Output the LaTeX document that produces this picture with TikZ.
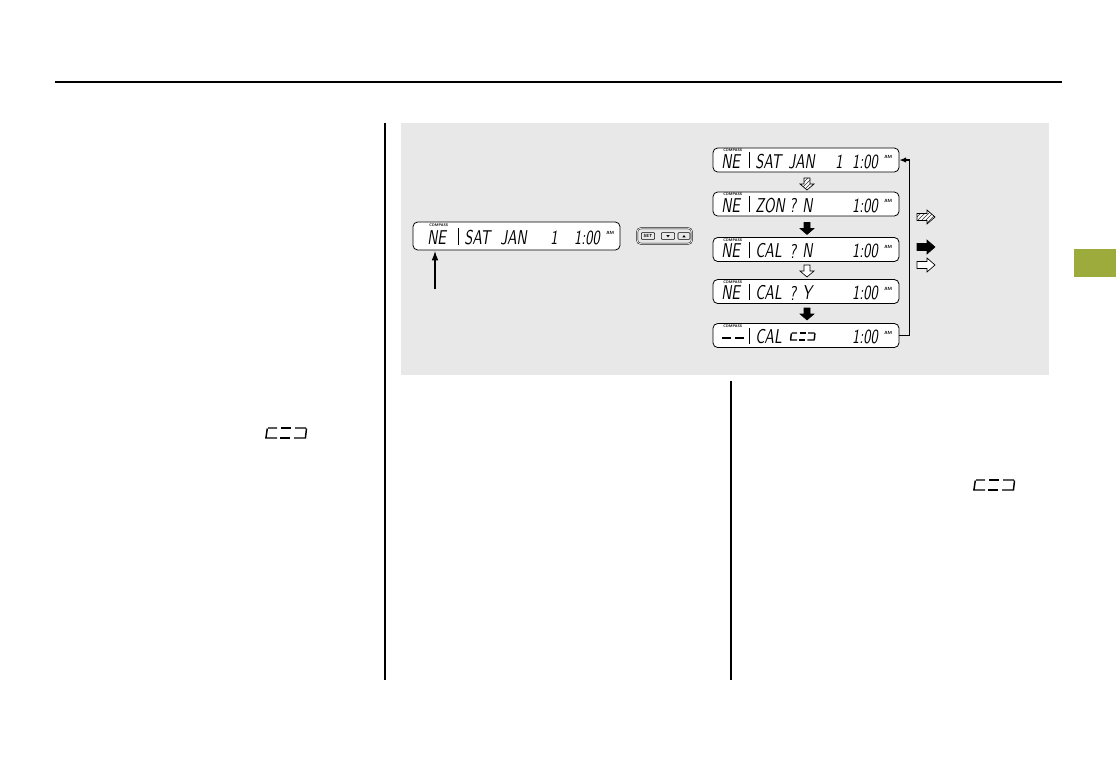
\documentclass[tikz,border=0pt]{standalone}
\usepackage{fontspec}
\usetikzlibrary{patterns,arrows.meta}
\definecolor{panel}{HTML}{E8E8E8}
\definecolor{tabgreen}{HTML}{9CAB3C}
\newfontfamily\lcdfam{lmsans10-oblique.otf}[FakeStretch=0.72]
\newcommand\downpath{(-3,-6)--(3,-6)--(3,0)--(7,0)--(0,6)--(-7,0)--(-3,0)--cycle}
\newcommand\rightpath{(-9,-3.5)--(1,-3.5)--(1,-7)--(9,0)--(1,7)--(1,3.5)--(-9,3.5)--cycle}
\tikzset{
  disp/.style={draw, rounded corners=3.5pt, fill=white, line width=0.6pt, inner sep=0pt},
  lcd/.style={font=\lcdfam\fontsize{15}{15}\selectfont, inner sep=0pt, anchor=west},
  comp/.style={font=\sffamily\bfseries\fontsize{2.8}{2.8}\selectfont, inner sep=0pt, anchor=west},
  am/.style={font=\sffamily\bfseries\fontsize{3.4}{3.4}\selectfont, inner sep=0pt, anchor=west},
  bar/.style={line width=0.7pt},
  blk/.style={fill=black, draw=black, line width=0.4pt},
  wht/.style={fill=white, draw=black, line width=0.5pt},
  downarrow/.pic={\path[pic actions] \downpath;},
  rightarrow/.pic={\path[pic actions] \rightpath;},
  hatdown/.pic={\fill[white] \downpath; \fill[pattern=north east lines, pattern color=black!80] \downpath; \draw[line width=0.5pt] \downpath;},
  hatright/.pic={\fill[white] \rightpath; \fill[pattern=north east lines, pattern color=black!80] \rightpath; \draw[line width=0.5pt] \rightpath;},
  ccd/.pic={
    \draw[line width=1.1pt] (3,0)--(12,0) (2.3,0.5)--(1,9.5) (0,10)--(12,10);
    \draw[line width=1.1pt] (16,0)--(26,0) (15,10)--(25,10);
    \draw[line width=1.1pt] (30,0)--(41,0) (41.5,0.5)--(40.5,9.5) (29,10)--(41,10);
  },
  rule/.style={line width=1.3pt},
}
\begin{document}
\begin{tikzpicture}[x=0.75pt,y=-0.75pt]
\useasboundingbox (0,0) rectangle (1116,758);
\fill[white] (0,0) rectangle (1116,758);
% header rule and page structure
\draw[rule] (55,82) -- (1062,82);
\fill[panel] (401,123) rectangle (1049,375);
\draw[rule] (385,123) -- (385,680);
\draw[rule] (731,381) -- (731,680);
\fill[tabgreen] (1074,249) rectangle (1116,277);

% left display
\node[disp, minimum width=155.25pt, minimum height=21pt] (d0) at (516.5,236) {};
\node[comp] (c0) at (429,225) {COMPASS};
\node[lcd] (ne0) at (427,237.5) {NE};
\draw[bar] (458,228) -- (458,245);
\node[lcd] (w0a) at (464,237.5) {SAT};
\node[lcd] (w0b) at (500,237.5) {JAN};
\node[lcd] (w0c) at (550,237.5) {1};
\node[lcd, anchor=east] (t0) at (600,237.5) {1:00};
\node[am] (am0) at (606,233) {AM};
\coordinate (src0) at (435,289);
\coordinate (tip0) at (435,251);
\draw[line width=0.8pt, -{Latex[length=7pt,width=5pt]}] (src0) -- (tip0);

% button box
\node[draw, rounded corners=2.5pt, double, double distance=0.6pt, line width=0.35pt, minimum width=41pt, minimum height=11.5pt, inner sep=0pt] (btn) at (664.5,236) {};
\node[draw, line width=0.4pt, rounded corners=0.6pt, minimum width=10pt, minimum height=5pt, inner sep=0pt, font=\sffamily\bfseries\fontsize{3.3}{3.3}\selectfont] (bset) at (648,236) {SET};
\node[draw, line width=0.4pt, rounded corners=0.6pt, minimum width=10pt, minimum height=5pt, inner sep=0pt] (bdn) at (668,236) {};
\node[draw, line width=0.4pt, rounded corners=0.6pt, minimum width=9pt, minimum height=5pt, inner sep=0pt] (bup) at (684,236) {};
\fill (666.3,235) -- (669.7,235) -- (668,237.3) -- cycle;
\fill (682.3,237.3) -- (685.7,237.3) -- (684,235) -- cycle;

% right displays
\foreach \i/\y in {1/160,2/204,3/249.5,4/291.5,5/335.5} {
  \node[disp, minimum width=139.5pt, minimum height=18pt] (d\i) at (806,\y) {};
  \node[comp] (c\i) at (723,\y-9.5) {COMPASS};
  \draw[bar] (749,\y-8) -- (749,\y+8);
  \node[lcd, anchor=east] (t\i) at (878,\y+1.5) {1:00};
  \node[am] (am\i) at (884,\y-3) {AM};
}
\node[lcd] (ne1) at (721,161.5) {NE};
\node[lcd] (w1a) at (755,161.5) {SAT};
\node[lcd] (w1b) at (788,161.5) {JAN};
\node[lcd] (w1c) at (835,161.5) {1};
\node[lcd] (ne2) at (721,205.5) {NE};
\node[lcd] (w2a) at (755,205.5) {ZON};
\node[lcd] (w2b) at (789,205.5) {?};
\node[lcd] (w2c) at (802,205.5) {N};
\node[lcd] (ne3) at (721,251) {NE};
\node[lcd] (w3a) at (755,251) {CAL};
\node[lcd] (w3b) at (789,251) {?};
\node[lcd] (w3c) at (802,251) {N};
\node[lcd] (ne4) at (721,293) {NE};
\node[lcd] (w4a) at (755,293) {CAL};
\node[lcd] (w4b) at (789,293) {?};
\node[lcd] (w4c) at (802,293) {Y};
\draw[line width=1.1pt] (722,338)--(731,338) (735,338)--(744,338);
\node[lcd] (w5a) at (755,337) {CAL};
\pic[xscale=0.6, yscale=0.7] at (790,333) {ccd};

% flow arrows
\pic at (807,184) {hatdown};
\pic[blk] at (807,228.5) {downarrow};
\pic[wht] at (807,271) {downarrow};
\pic[blk] at (807,314) {downarrow};

% return connector
\draw[line width=0.8pt, -{Latex[length=5pt,width=4pt]}] (d5.east) -- ++(10,0) |- (d1.east);

% legend arrows
\pic at (926,217) {hatright};
\pic[blk] at (926,247) {rightarrow};
\pic[wht] at (926,265) {rightarrow};

% stray symbols in text areas
\pic at (265,428) {ccd};
\pic at (973,480) {ccd};
\end{tikzpicture}
\end{document}
